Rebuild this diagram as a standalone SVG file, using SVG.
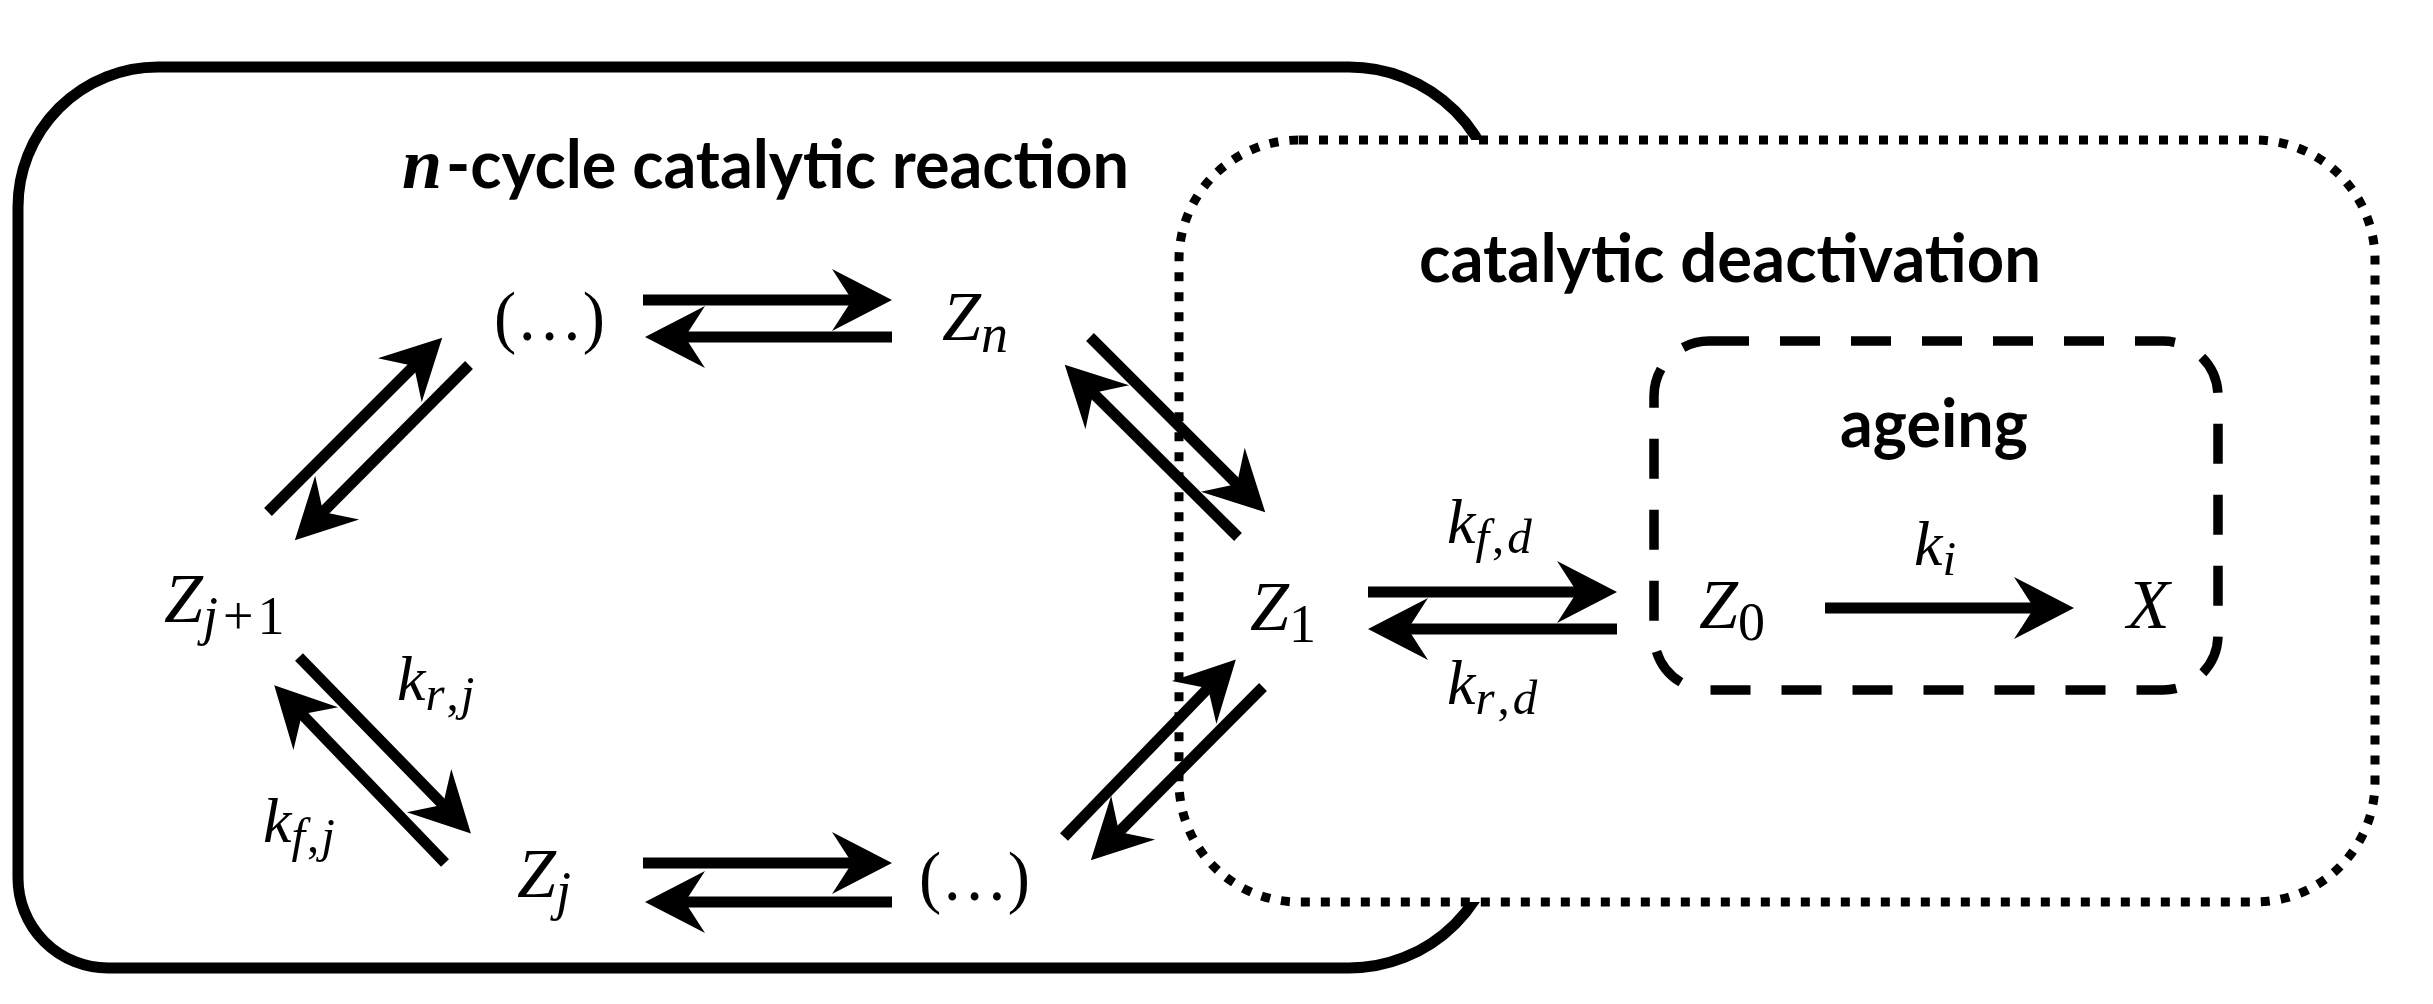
<svg xmlns="http://www.w3.org/2000/svg" width="2433" height="1004" viewBox="0 0 2433 1004">
<defs>
<style>
.title{font-family:Lato,"Open Sans","Liberation Sans",sans-serif;font-weight:bold;font-size:66px;fill:#000}
.tn{font-family:"Liberation Serif","DejaVu Serif",serif;font-style:italic;font-weight:bold;font-size:72px}
.m{font-family:"Liberation Serif","Times New Roman",serif;font-style:italic;font-size:70px;fill:#000}
.k{font-family:"Liberation Serif","Times New Roman",serif;font-style:italic;font-size:64px;fill:#000}
.sub{font-size:54px}
.ksub{font-size:49px}
.up{font-style:normal}
.arr{stroke:#000;stroke-width:11;fill:none;marker-end:url(#ah)}
.box{fill:none;stroke:#000}
</style>
<marker id="ah" markerUnits="userSpaceOnUse" viewBox="-62 -35 72 70" markerWidth="72" markerHeight="70" refX="-30" refY="0" orient="auto">
<path d="M0,0 L-60,-31 L-40,0 L-60,31 Z" fill="#000"/>
</marker>
</defs>
<rect width="2433" height="1004" fill="#fff"/>

<g id="box-cycle">
<path class="box" stroke-width="11" d="M158,67 H1349 A150,150 0 0 1 1499,217 V818 A150,150 0 0 1 1349,968 H108 A90,90 0 0 1 18,878 V207 A140,140 0 0 1 158,67 Z"/>
<text class="title" x="402" y="188"><tspan class="tn">n</tspan><tspan x="446" textLength="683" lengthAdjust="spacingAndGlyphs">-cycle catalytic reaction</tspan></text>
</g>

<g id="box-deactivation">
<rect x="1179" y="140" width="1196" height="762" rx="120" fill="#fff" stroke="#000" stroke-width="9" stroke-dasharray="9 11"/>
<text class="title" x="1419" y="282" textLength="622" lengthAdjust="spacingAndGlyphs">catalytic deactivation</text>
</g>

<g id="box-ageing">
<rect class="box" x="1654" y="341" width="564" height="349" rx="55" stroke-width="9.5" stroke-dasharray="40 31"/>
<text class="title" x="1840" y="447" textLength="188" lengthAdjust="spacingAndGlyphs">ageing</text>
</g>

<g id="connectors">
<line class="arr" x1="643" y1="300" x2="862" y2="300"/>
<line class="arr" x1="892" y1="337" x2="675" y2="337"/>
<line class="arr" x1="643" y1="863" x2="862" y2="863"/>
<line class="arr" x1="892" y1="902" x2="675" y2="902"/>
<line class="arr" x1="1368" y1="592" x2="1587" y2="592"/>
<line class="arr" x1="1617" y1="629" x2="1398" y2="629"/>
<line class="arr" x1="1825" y1="608" x2="2044" y2="608"/>
<line class="arr" x1="268" y1="512" x2="421" y2="359"/>
<line class="arr" x1="469" y1="365" x2="316" y2="519"/>
<line class="arr" x1="299" y1="657" x2="450" y2="812"/>
<line class="arr" x1="445" y1="863" x2="295" y2="707"/>
<line class="arr" x1="1064" y1="837" x2="1215" y2="681"/>
<line class="arr" x1="1263" y1="687" x2="1112" y2="839"/>
<line class="arr" x1="1090" y1="337" x2="1244" y2="491"/>
<line class="arr" x1="1238" y1="537" x2="1086" y2="386"/>
</g>

<g id="node-dots-top"><text class="m up" x="494" y="340" textLength="111" lengthAdjust="spacingAndGlyphs">(…)</text></g>
<g id="node-Zn"><text class="m" x="942" y="340">Z<tspan class="sub" dy="12">n</tspan></text></g>
<g id="node-Zj1"><text class="m" x="164" y="622">Z<tspan class="sub" dy="12">j</tspan><tspan class="sub up" dx="5">+</tspan><tspan class="sub up" dx="4">1</tspan></text></g>
<g id="node-Z1"><text class="m" x="1250" y="630">Z<tspan class="sub up" dy="12">1</tspan></text></g>
<g id="node-Zj"><text class="m" x="517" y="897">Z<tspan class="sub" dy="12">j</tspan></text></g>
<g id="node-dots-bottom"><text class="m up" x="919" y="900" textLength="111" lengthAdjust="spacingAndGlyphs">(…)</text></g>
<g id="node-Z0"><text class="m" x="1699" y="628">Z<tspan class="sub up" dy="12">0</tspan></text></g>
<g id="node-X"><text class="m" x="2127" y="628">X</text></g>

<g id="labels">
<text class="k" x="1447" y="543">k<tspan class="ksub" dy="10">f</tspan><tspan class="ksub up" dx="3">,</tspan><tspan class="ksub" dx="3">d</tspan></text>
<text class="k" x="1447" y="704">k<tspan class="ksub" dy="10">r</tspan><tspan class="ksub up" dx="3">,</tspan><tspan class="ksub" dx="3">d</tspan></text>
<text class="k" x="1914" y="565">k<tspan class="ksub" dy="10">i</tspan></text>
<text class="k" x="397" y="700">k<tspan class="ksub" dy="10">r</tspan><tspan class="ksub up" dx="2">,</tspan><tspan class="ksub" dx="2">j</tspan></text>
<text class="k" x="263" y="842">k<tspan class="ksub" dy="10">f</tspan><tspan class="ksub up" dx="2">,</tspan><tspan class="ksub" dx="2">j</tspan></text>
</g>
</svg>
